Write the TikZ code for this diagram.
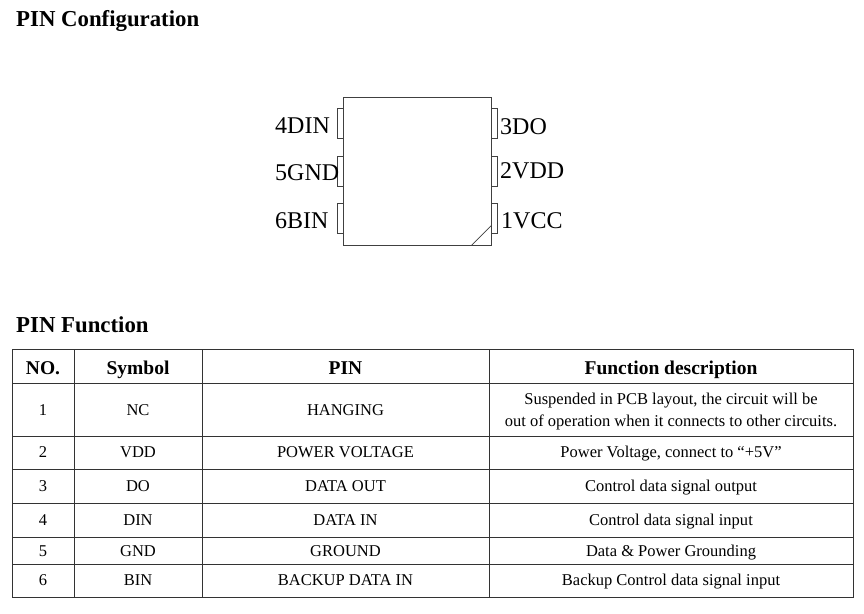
\documentclass[tikz,border=0pt]{standalone}
\usepackage{fontspec}
\setmainfont{Liberation Serif}
\usetikzlibrary{
  calc,
  positioning
}
\tikzset{>=latex}
\newcommand{\bodysize}{\fontsize{16.5}{20}\selectfont}
\newcommand{\headsize}{\fontsize{19.5}{23}\selectfont}

\begin{document}
\begin{tikzpicture}[x=1pt,y=-1pt,
    title/.style={font=\fontsize{22.8}{26}\selectfont\bfseries, anchor=west, inner sep=0pt, text height=15pt, text depth=0pt},
    cell/.style={font=\bodysize, inner sep=0pt, text height=10.8pt, text depth=0pt},
    headcell/.style={font=\headsize\bfseries, inner sep=0pt, text height=12.8pt, text depth=0pt},
    pinbox/.style={draw=black!75, line width=0.8pt, minimum width=6pt, minimum height=30pt, inner sep=0pt},
    pinlabel/.style={font=\fontsize{24}{28}\selectfont, anchor=west, inner sep=0pt, text height=15.7pt, text depth=0pt},
    grid/.style={draw=black!80, line width=0.9pt}]
			\path[fill=white, use as bounding box] (0,0) rectangle (864,613);

			% headings
			\node[title] (conftitle) at (16,18.5) {PIN Configuration};
			\node[title] (functitle) at (16,325) {PIN Function};

			% package outline
			\node[draw=black!75, line width=0.8pt, minimum width=148pt, minimum height=148pt, inner sep=0pt] (chip) at (417,171) {};
			\draw[black!75, line width=0.7pt] ([xshift=-20pt]chip.south east) -- ([yshift=20pt]chip.south east);

			\node[pinbox] (p4) at (340,123.5) {};
			\node[pinbox] (p5) at (340,171) {};
			\node[pinbox] (p6) at (340,218) {};
			\node[pinbox] (p3) at (494,123.5) {};
			\node[pinbox] (p2) at (494,171) {};
			\node[pinbox] (p1) at (494,218) {};

			\node[pinlabel] (l4) at (275,126) {4DIN};
			\node[pinlabel] (l5) at (275,172.5) {5GND};
			\node[pinlabel] (l6) at (275,220.5) {6BIN};
			\node[pinlabel] (l3) at (500,127) {3DO};
			\node[pinlabel] (l2) at (500,171) {2VDD};
			\node[pinlabel] (l1) at (501,220.5) {1VCC};

			% table
			\draw[grid] (12,349) rectangle (853,597);
			\foreach \y in {383,436,469,503,537,564}
				\draw[grid] (12,\y) -- (853,\y);
			\foreach \x in {74,202,489}
				\draw[grid] (\x,349) -- (\x,597);

			\node[headcell] (hno) at (43,368) {NO.};
			\node[headcell] (hsym) at (138,368) {Symbol};
			\node[headcell] (hpin) at (345.5,368) {PIN};
			\node[headcell] (hfn) at (671,368) {Function description};

			\node[cell] (no1) at (43,410.5) {1};
			\node[cell] (sym1) at (138,410.5) {NC};
			\node[cell] (pin1) at (345.5,410.5) {HANGING};
			\node[cell] (fn1a) at (671,399) {Suspended in PCB layout, the circuit will be};
			\node[cell] (fn1b) at (671,421) {out of operation when it connects to other circuits.};

			\foreach \n/\sym/\pin/\fn/\y in {
					2/VDD/{POWER VOLTAGE}/{Power Voltage, connect to “+5V”}/452.5,
					3/DO/{DATA OUT}/{Control data signal output}/486.5,
					4/DIN/{DATA IN}/{Control data signal input}/520.5,
					5/GND/GROUND/{Data \& Power Grounding}/551,
					6/BIN/{BACKUP DATA IN}/{Backup Control data signal input}/580.5}{
				\node[cell] (no\n) at (43,\y) {\n};
				\node[cell] (sym\n) at (138,\y) {\sym};
				\node[cell] (pin\n) at (345.5,\y) {\pin};
				\node[cell] (fn\n) at (671,\y) {\fn};
			}
		\end{tikzpicture}
\end{document}
